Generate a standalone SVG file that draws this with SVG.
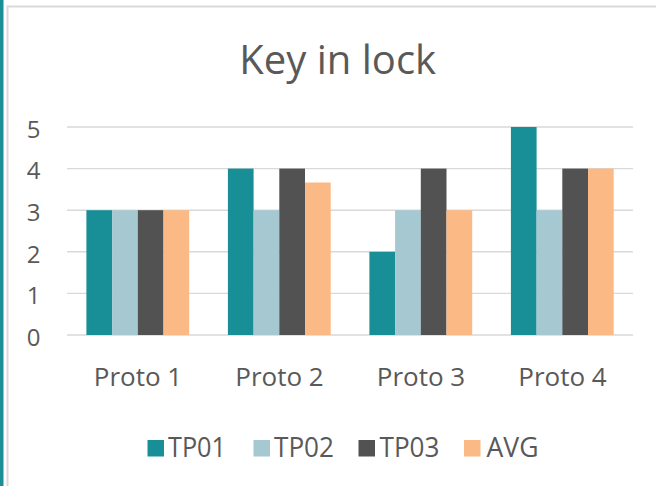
<svg xmlns="http://www.w3.org/2000/svg" width="656" height="486" viewBox="0 0 656 486">
<style>
text{font-family:"Open Sans","Noto Sans","Liberation Sans",sans-serif;fill:#595959}
.grid{stroke:#d9d9d9;stroke-width:1.4}
.ylab{font-size:24px;text-anchor:end}
.xlab{font-size:26px;text-anchor:middle}
.leg{font-size:27px}
.s1{fill:#188f96}.s2{fill:#a5c8d1}.s3{fill:#525252}.s4{fill:#fbba85}
</style>
<rect width="656" height="486" fill="#fff"/>
<rect x="0" y="0" width="3.5" height="486" fill="#1a9096"/>
<path d="M7.5 486V6.5H660" fill="none" stroke="#d9d9d9" stroke-width="2"/>
<g id="title"><text x="337.7" y="74" style="font-size:40px" text-anchor="middle">Key in lock</text></g>
<g id="gridlines">
<line class="grid" x1="67" y1="335" x2="633" y2="335"/>
<line class="grid" x1="67" y1="293.4" x2="633" y2="293.4"/>
<line class="grid" x1="67" y1="251.8" x2="633" y2="251.8"/>
<line class="grid" x1="67" y1="210.2" x2="633" y2="210.2"/>
<line class="grid" x1="67" y1="168.6" x2="633" y2="168.6"/>
<line class="grid" x1="67" y1="127" x2="633" y2="127"/>
</g>
<g id="yaxis">
<text class="ylab" x="40.5" y="345.7">0</text>
<text class="ylab" x="40.5" y="304.1">1</text>
<text class="ylab" x="40.5" y="262.5">2</text>
<text class="ylab" x="40.5" y="220.9">3</text>
<text class="ylab" x="40.5" y="179.3">4</text>
<text class="ylab" x="40.5" y="137.7">5</text>
</g>
<g id="proto1">
<rect class="s1" x="86.4" y="210.2" width="25.7" height="124.8"/>
<rect class="s2" x="112.1" y="210.2" width="25.7" height="124.8"/>
<rect class="s3" x="137.8" y="210.2" width="25.7" height="124.8"/>
<rect class="s4" x="163.5" y="210.2" width="25.7" height="124.8"/>
<text class="xlab" x="138" y="385.7">Proto 1</text>
</g>
<g id="proto2">
<rect class="s1" x="227.9" y="168.6" width="25.7" height="166.4"/>
<rect class="s2" x="253.6" y="210.2" width="25.7" height="124.8"/>
<rect class="s3" x="279.3" y="168.6" width="25.7" height="166.4"/>
<rect class="s4" x="305" y="182.5" width="25.7" height="152.5"/>
<text class="xlab" x="279.5" y="385.7">Proto 2</text>
</g>
<g id="proto3">
<rect class="s1" x="369.4" y="251.8" width="25.7" height="83.2"/>
<rect class="s2" x="395.1" y="210.2" width="25.7" height="124.8"/>
<rect class="s3" x="420.8" y="168.6" width="25.7" height="166.4"/>
<rect class="s4" x="446.5" y="210.2" width="25.7" height="124.8"/>
<text class="xlab" x="421" y="385.7">Proto 3</text>
</g>
<g id="proto4">
<rect class="s1" x="510.9" y="127" width="25.7" height="208"/>
<rect class="s2" x="536.6" y="210.2" width="25.7" height="124.8"/>
<rect class="s3" x="562.3" y="168.6" width="25.7" height="166.4"/>
<rect class="s4" x="588" y="168.6" width="25.7" height="166.4"/>
<text class="xlab" x="562.5" y="385.7">Proto 4</text>
</g>
<g id="legend">
<rect class="s1" x="147.5" y="440" width="16.5" height="16.5"/>
<text class="leg" x="168" y="456.7" textLength="58" lengthAdjust="spacingAndGlyphs">TP01</text>
<rect class="s2" x="253.5" y="440" width="16.5" height="16.5"/>
<text class="leg" x="274" y="456.7" textLength="60" lengthAdjust="spacingAndGlyphs">TP02</text>
<rect class="s3" x="358.5" y="440" width="16.5" height="16.5"/>
<text class="leg" x="379.5" y="456.7" textLength="60" lengthAdjust="spacingAndGlyphs">TP03</text>
<rect class="s4" x="464" y="440" width="16.5" height="16.5"/>
<text class="leg" x="486.5" y="456.7" textLength="52" lengthAdjust="spacingAndGlyphs">AVG</text>
</g>
</svg>
